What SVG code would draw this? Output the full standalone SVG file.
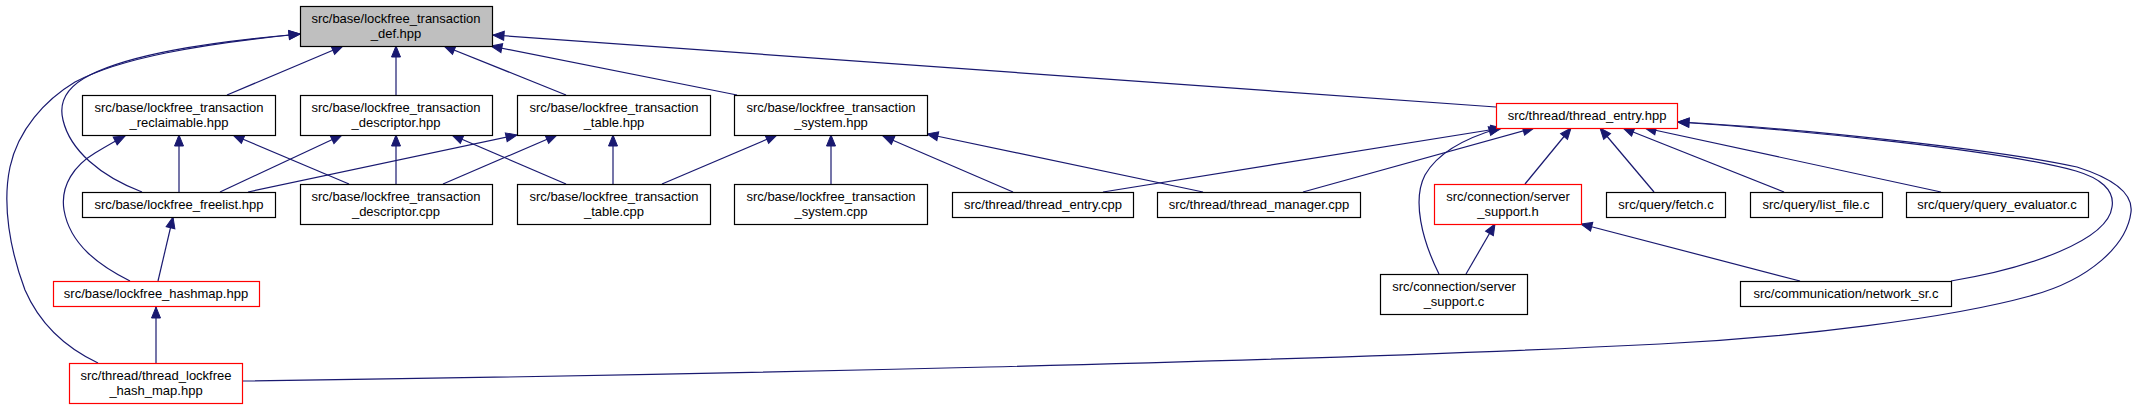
<svg xmlns="http://www.w3.org/2000/svg" width="2138" height="409" viewBox="0 0 2138 409">
<defs>
<marker id="ah" viewBox="-1 -1 13 11" refX="11" refY="4.5" markerWidth="13" markerHeight="11" markerUnits="userSpaceOnUse" orient="auto" overflow="visible">
<path d="M0,0 L11,4.5 L0,9 z" fill="#191970" stroke="#191970" stroke-width="1"/>
</marker>
</defs>
<style>
.n rect{fill:#ffffff;stroke:#000000;stroke-width:1.2}
.n.red rect{stroke:#ff0000}
.n.root rect{fill:#bfbfbf;stroke:#000000}
.n text{font-family:"Liberation Sans",Arial,sans-serif;font-size:13px;fill:#000000;text-anchor:middle}
.e path{fill:none;stroke:#191970;stroke-width:1.2;marker-end:url(#ah)}
</style>
<rect x="0" y="0" width="2138" height="409" fill="#ffffff"/>
<g id="edges" class="e">
<path d="M227,95 L343,46"/>
<path d="M396,95 L396,46"/>
<path d="M566,95 L444,46"/>
<path d="M737,95 L491,46"/>
<path d="M1496,107 L493,35"/>
<path d="M142,192 C100,176 70,150 63,120 C58,100 70,85 90,75 C130,55 200,43 300,34"/>
<path d="M98,363 C60,345 38,320 25,290 C10,250 2,205 10,167 C18,130 45,100 75,82 C120,58 200,44 300,34"/>
<path d="M179,192 L179,135"/>
<path d="M220,192 L342,135"/>
<path d="M248,192 L517,135"/>
<path d="M349,184 L233,135"/>
<path d="M396,184 L396,135"/>
<path d="M443,184 L557,135"/>
<path d="M566,184 L452,135"/>
<path d="M613,184 L613,135"/>
<path d="M662,184 L777,135"/>
<path d="M831,184 L831,135"/>
<path d="M1013,192 L883,136"/>
<path d="M1203,192 L927,134"/>
<path d="M1103,192 L1502,128"/>
<path d="M1303,192 L1534,128"/>
<path d="M1525,184 L1571,128"/>
<path d="M1654,192 L1600,128"/>
<path d="M1784,192 L1623,128"/>
<path d="M1941,192 L1645,128"/>
<path d="M1439,274 C1422,240 1412,200 1425,175 C1438,152 1465,138 1500,128"/>
<path d="M1951,281 C2030,268 2108,240 2112,207 C2115,190 2100,178 2076,171 C2000,150 1800,130 1678,122"/>
<path d="M243,381 C700,375 1300,362 1660,344 C1800,337 1950,318 2030,296 C2090,280 2127,245 2131,212 C2133,195 2118,180 2077,167 C2000,150 1800,128 1678,122"/>
<path d="M1466,274 L1495,224"/>
<path d="M1800,281 L1581,224"/>
<path d="M130,281 C100,266 70,245 64,210 C60,185 75,165 95,153 C105,147 115,141 125,136"/>
<path d="M158,281 L173,217"/>
<path d="M156,363 L156,307"/>
</g>
<g id="def" class="n root"><rect x="300.5" y="6.5" width="192" height="40"/><text x="396" y="22.5">src/base/lockfree_transaction</text><text x="396" y="37.5">_def.hpp</text></g>
<g id="reclaimable" class="n"><rect x="82.5" y="95.5" width="193" height="40"/><text x="179" y="111.5">src/base/lockfree_transaction</text><text x="179" y="126.5">_reclaimable.hpp</text></g>
<g id="descriptor_hpp" class="n"><rect x="300.5" y="95.5" width="192" height="40"/><text x="396" y="111.5">src/base/lockfree_transaction</text><text x="396" y="126.5">_descriptor.hpp</text></g>
<g id="table_hpp" class="n"><rect x="517.5" y="95.5" width="193" height="40"/><text x="614" y="111.5">src/base/lockfree_transaction</text><text x="614" y="126.5">_table.hpp</text></g>
<g id="system_hpp" class="n"><rect x="734.5" y="95.5" width="193" height="40"/><text x="831" y="111.5">src/base/lockfree_transaction</text><text x="831" y="126.5">_system.hpp</text></g>
<g id="freelist" class="n"><rect x="82.5" y="192.5" width="193" height="25"/><text x="179" y="209">src/base/lockfree_freelist.hpp</text></g>
<g id="descriptor_cpp" class="n"><rect x="300.5" y="184.5" width="192" height="40"/><text x="396" y="200.5">src/base/lockfree_transaction</text><text x="396" y="215.5">_descriptor.cpp</text></g>
<g id="table_cpp" class="n"><rect x="517.5" y="184.5" width="193" height="40"/><text x="614" y="200.5">src/base/lockfree_transaction</text><text x="614" y="215.5">_table.cpp</text></g>
<g id="system_cpp" class="n"><rect x="734.5" y="184.5" width="193" height="40"/><text x="831" y="200.5">src/base/lockfree_transaction</text><text x="831" y="215.5">_system.cpp</text></g>
<g id="thread_entry_cpp" class="n"><rect x="952.5" y="192.5" width="181" height="25"/><text x="1043" y="209">src/thread/thread_entry.cpp</text></g>
<g id="thread_manager_cpp" class="n"><rect x="1157.5" y="192.5" width="203" height="25"/><text x="1259" y="209">src/thread/thread_manager.cpp</text></g>
<g id="thread_entry_hpp" class="n red"><rect x="1496.5" y="103.5" width="181" height="25"/><text x="1587" y="120">src/thread/thread_entry.hpp</text></g>
<g id="server_support_h" class="n red"><rect x="1434.5" y="184.5" width="147" height="40"/><text x="1508" y="200.5">src/connection/server</text><text x="1508" y="215.5">_support.h</text></g>
<g id="fetch_c" class="n"><rect x="1606.5" y="192.5" width="119" height="25"/><text x="1666" y="209">src/query/fetch.c</text></g>
<g id="list_file_c" class="n"><rect x="1750.5" y="192.5" width="132" height="25"/><text x="1816" y="209">src/query/list_file.c</text></g>
<g id="query_evaluator_c" class="n"><rect x="1906.5" y="192.5" width="182" height="25"/><text x="1997" y="209">src/query/query_evaluator.c</text></g>
<g id="server_support_c" class="n"><rect x="1380.5" y="274.5" width="147" height="40"/><text x="1454" y="290.5">src/connection/server</text><text x="1454" y="305.5">_support.c</text></g>
<g id="network_sr_c" class="n"><rect x="1740.5" y="281.5" width="211" height="25"/><text x="1846" y="298">src/communication/network_sr.c</text></g>
<g id="lockfree_hashmap" class="n red"><rect x="53.5" y="281.5" width="206" height="25"/><text x="156" y="298">src/base/lockfree_hashmap.hpp</text></g>
<g id="thread_lockfree_hash_map" class="n red"><rect x="69.5" y="363.5" width="173" height="40"/><text x="156" y="379.5">src/thread/thread_lockfree</text><text x="156" y="394.5">_hash_map.hpp</text></g>
</svg>
